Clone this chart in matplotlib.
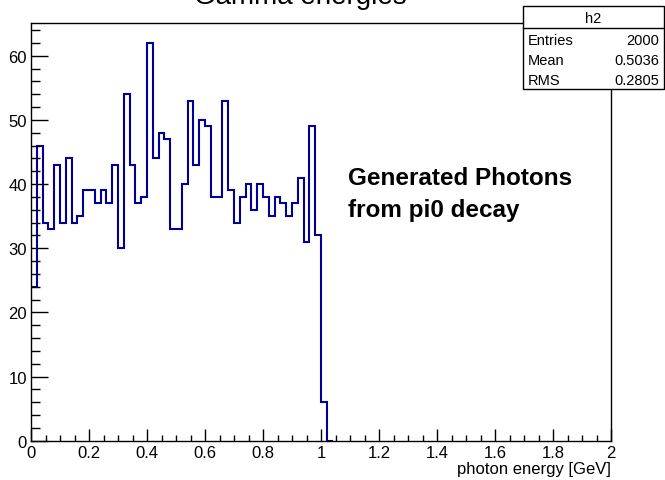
import matplotlib
matplotlib.use('Agg')
import matplotlib.pyplot as plt
from matplotlib.patches import Rectangle
from matplotlib.lines import Line2D
from matplotlib.ticker import MultipleLocator

plt.rcParams['font.family'] = ['Liberation Sans', 'DejaVu Sans']

# ---- data ----
bin_width = 0.02
counts = [24, 46, 34, 33, 43, 34, 44, 34, 35, 39,
          39, 37, 39, 37, 43, 30, 54, 43, 37, 38,
          62, 44, 48, 47, 33, 33, 40, 53, 43, 50,
          49, 38, 38, 53, 39, 34, 38, 40, 36, 40,
          38, 35, 38, 37, 35, 37, 41, 31, 49, 32,
          6, 0]
x_ticks = [0, 0.2, 0.4, 0.6, 0.8, 1, 1.2, 1.4, 1.6, 1.8, 2]
x_tick_labels = ['0', '0.2', '0.4', '0.6', '0.8', '1', '1.2', '1.4', '1.6', '1.8', '2']
y_ticks = [0, 10, 20, 30, 40, 50, 60]
stats_names = ['Entries', 'Mean', 'RMS']
stats_values = ['2000', '0.5036', '0.2805']
hist_name = 'h2'
title = 'Gamma energies'
x_label = 'photon energy [GeV]'

edges = [i * bin_width for i in range(len(counts) + 1)]

W, H = 665, 481
fig = plt.figure(figsize=(W / 100, H / 100), dpi=100)


def fx(px):
    return px / W


def fy(py):
    return 1 - py / H


ax = fig.add_axes([fx(31), fy(441.7), fx(611) - fx(31), fy(24) - fy(441.7)])
ax.stairs(counts, edges, baseline=None, color='#000099', linewidth=1.5)
ax.set_xlim(0, 2)
ax.set_ylim(0, 65.1)

for s in ax.spines.values():
    s.set_linewidth(1.0)
    s.set_color('black')

ax.set_xticks(x_ticks)
ax.set_xticklabels(x_tick_labels)
ax.set_yticks(y_ticks)
ax.xaxis.set_minor_locator(MultipleLocator(0.05))
ax.yaxis.set_minor_locator(MultipleLocator(2))
ax.tick_params(axis='x', which='major', direction='in', length=9, width=1.0,
               labelsize=12, pad=3)
ax.tick_params(axis='x', which='minor', direction='in', length=4.5, width=1.0)
ax.tick_params(axis='y', which='major', direction='in', length=12.5, width=1.0,
               labelsize=12, pad=3)
ax.tick_params(axis='y', which='minor', direction='in', length=6.3, width=1.0)

# x label, right aligned at axis end
fig.text(fx(611), fy(470), x_label, ha='right', va='center', fontsize=12)

# title (mostly cut off at the top edge, as in the reference)
fig.text(fx(300), fy(3.5), title, ha='center', va='baseline', fontsize=20)

# annotation
fig.text(fx(348), fy(185), 'Generated Photons', ha='left', va='baseline',
         fontsize=17.5, fontweight='bold')
fig.text(fx(348), fy(216.7), 'from pi0 decay', ha='left', va='baseline',
         fontsize=17.5, fontweight='bold')

# stats box
bx0, bx1, by0, by1, hy = 523, 664, 7, 89.5, 28.5
rect = Rectangle((fx(bx0), fy(by1)), fx(bx1) - fx(bx0), fy(by0) - fy(by1),
                 transform=fig.transFigure, facecolor='white', edgecolor='black',
                 linewidth=1.0, zorder=5)
fig.add_artist(rect)
fig.add_artist(Line2D([fx(bx0), fx(bx1)], [fy(hy), fy(hy)], transform=fig.transFigure,
                      color='black', linewidth=1.0, zorder=6))
fig.text(fx((bx0 + bx1) / 2), fy(19), hist_name, ha='center', va='center',
         fontsize=10.5, zorder=7)
row_y = [41, 61, 81]
for name, val, yy in zip(stats_names, stats_values, row_y):
    fig.text(fx(528), fy(yy), name, ha='left', va='center', fontsize=10.5, zorder=7)
    fig.text(fx(659), fy(yy), val, ha='right', va='center', fontsize=10.5, zorder=7)

fig.savefig('out.png', dpi=100)
